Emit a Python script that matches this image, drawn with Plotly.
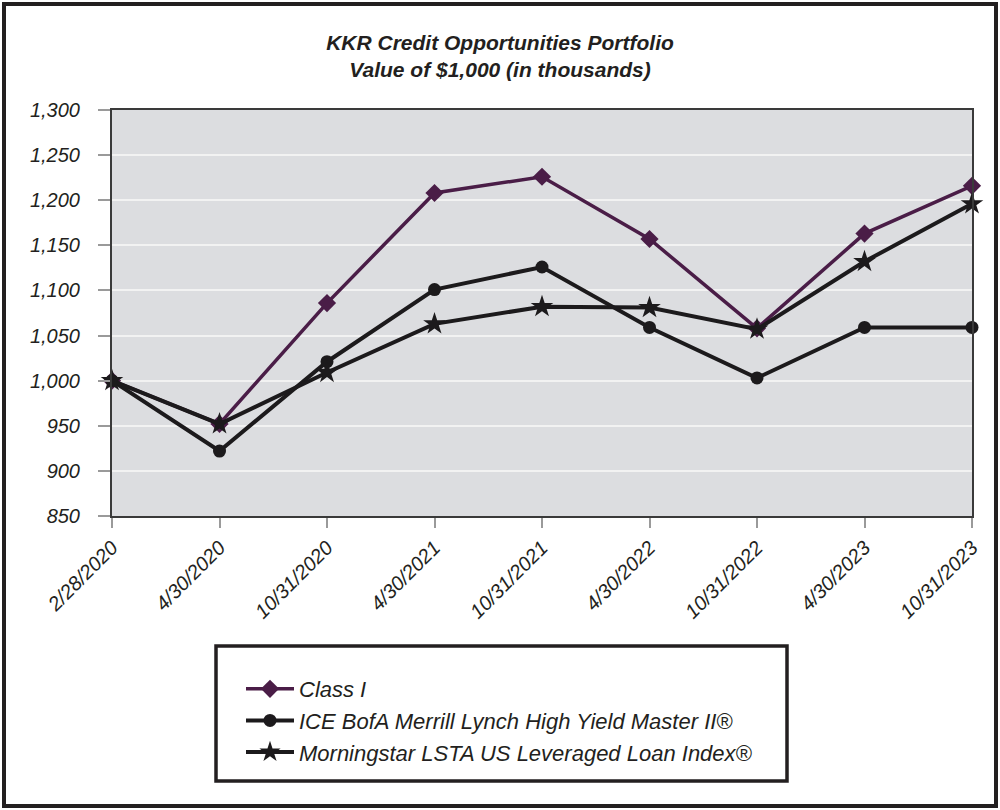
import plotly.graph_objects as go

dates = ["2/28/2020", "4/30/2020", "10/31/2020", "4/30/2021", "10/31/2021",
         "4/30/2022", "10/31/2022", "4/30/2023", "10/31/2023"]
class_i = [1000, 952, 1086, 1208, 1226, 1157, 1058, 1163, 1216]
ice_bofa = [1000, 922, 1021, 1101, 1126, 1059, 1003, 1059, 1059]
morningstar = [1000, 952, 1009, 1063, 1082, 1081, 1057, 1132, 1196]
y_ticks = [850, 900, 950, 1000, 1050, 1100, 1150, 1200, 1250, 1300]

FONT = "Liberation Sans, Arial, sans-serif"
TXT = "#231f20"
xs = list(range(len(dates)))

fig = go.Figure()
fig.add_trace(go.Scatter(
    x=xs, y=class_i, name="Class I", mode="lines+markers",
    line=dict(color="#4a1d47", width=3.5),
    marker=dict(symbol="diamond", size=14, color="#4a1d47"),
    cliponaxis=False))
fig.add_trace(go.Scatter(
    x=xs, y=ice_bofa, name="ICE BofA Merrill Lynch High Yield Master II®", mode="lines+markers",
    line=dict(color="#1c1a1c", width=4),
    marker=dict(symbol="circle", size=13, color="#1c1a1c"),
    cliponaxis=False))
fig.add_trace(go.Scatter(
    x=xs, y=morningstar, name="Morningstar LSTA US Leveraged Loan Index®", mode="lines+markers",
    line=dict(color="#1c1a1c", width=4),
    marker=dict(symbol="star", size=17, color="#1c1a1c"),
    cliponaxis=False))

fig.update_layout(
    width=1000, height=810,
    margin=dict(l=112, r=28, t=110, b=294),
    paper_bgcolor="white", plot_bgcolor="#dcdde0",
    font=dict(family=FONT, size=20, color=TXT, style="italic"),
    title=dict(
        text="<b>KKR Credit Opportunities Portfolio<br>Value of $1,000 (in thousands)</b>",
        x=0.5, xanchor="center", y=1 - 50 / 810, yanchor="middle",
        font=dict(family=FONT, size=21, color=TXT, style="italic")),
    showlegend=True,
    legend=dict(
        x=(241 - 112) / 860, xanchor="left",
        y=(516 - 668) / 406, yanchor="top",
        bgcolor="rgba(0,0,0,0)", borderwidth=0,
        font=dict(family=FONT, size=22, color=TXT, style="italic"),
        tracegroupgap=0, itemwidth=48),
)

fig.update_xaxes(
    range=[0, 8], tickvals=xs, ticktext=dates, tickangle=-45,
    showgrid=False, zeroline=False,
    showline=True, linecolor="#3a3a3a", linewidth=2, mirror=True,
    ticks="outside", ticklen=10, tickcolor="#9a9a9a", tickwidth=2,
    tickfont=dict(family=FONT, size=20, color=TXT, style="italic"))
fig.update_yaxes(
    range=[850, 1300], tickvals=y_ticks, tickformat=",",
    showgrid=True, gridcolor="#f2f2f2", gridwidth=2, zeroline=False,
    showline=True, linecolor="#3a3a3a", linewidth=2, mirror=True,
    ticks="outside", ticklen=12, tickcolor="#9a9a9a", tickwidth=2,
    ticklabelstandoff=14,
    tickfont=dict(family=FONT, size=20, color=TXT, style="italic"))

# outer frame
fig.add_shape(type="rect", xref="paper", yref="paper",
              x0=(4 - 112) / 860, x1=(996 - 112) / 860,
              y0=(516 - 806) / 406, y1=(516 - 4) / 406,
              line=dict(color=TXT, width=4), fillcolor="rgba(0,0,0,0)", layer="above")
# legend box
fig.add_shape(type="rect", xref="paper", yref="paper",
              x0=(216 - 112) / 860, x1=(787 - 112) / 860,
              y0=(516 - 781) / 406, y1=(516 - 646) / 406,
              line=dict(color=TXT, width=3.5), fillcolor="rgba(0,0,0,0)", layer="above")

fig.write_html("out.html", config={"displayModeBar": False},
               post_script="document.body.style.margin='0';document.body.style.overflow='hidden';")
